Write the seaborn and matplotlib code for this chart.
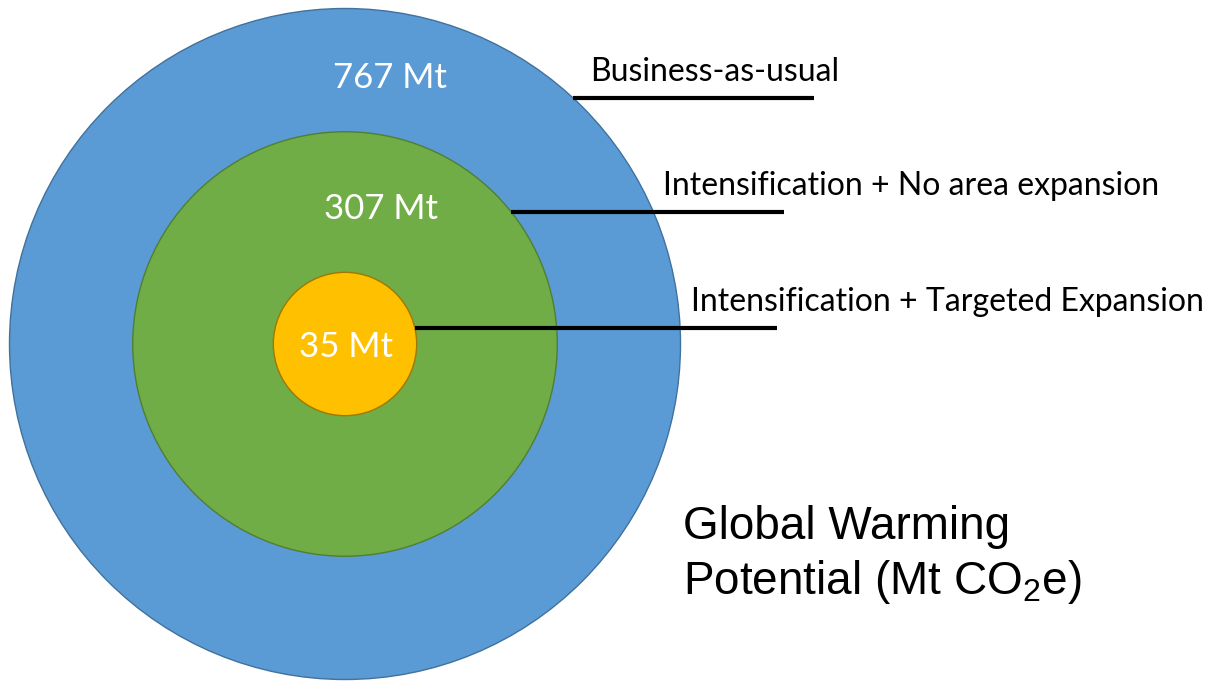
import numpy as np
import matplotlib.pyplot as plt
from matplotlib.patches import Circle
import seaborn as sns

# --- data ---
scenarios = ["Business-as-usual",
             "Intensification + No area expansion",
             "Intensification + Targeted Expansion"]
gwp_mt = [767, 307, 35]
value_labels = ["767 Mt", "307 Mt", "35 Mt"]

fill_colors = ["#5B9BD5", "#70AD47", "#FFC000"]
edge_colors = ["#41719C", "#507E32", "#A07800"]

sns.set_theme(style="white")
plt.rcParams["font.family"] = ["Lato", "DejaVu Sans"]
plt.rcParams["mathtext.fontset"] = "custom"
plt.rcParams["mathtext.rm"] = "Liberation Sans"

W, H = 1219, 681
fig = plt.figure(figsize=(W / 100, H / 100), dpi=100)
ax = fig.add_axes([0, 0, 1, 1])
ax.set_xlim(0, W)
ax.set_ylim(H, 0)
ax.axis("off")

# circle area proportional to value
cx, cy = 345, 344
r_max = 335.5
radii = [r_max * np.sqrt(v / max(gwp_mt)) for v in gwp_mt]

for r, fc, ec in zip(radii, fill_colors, edge_colors):
    ax.add_patch(Circle((cx, cy), r, facecolor=fc, edgecolor=ec, lw=1.0))

# value labels inside the rings
label_pos = [(390, 78), (381, 209), (346, 347)]
for (x, y), txt in zip(label_pos, value_labels):
    ax.text(x, y, txt, color="white", fontsize=25, ha="center", va="center")

# leader lines + scenario names
line_y = [98, 212, 328]
line_end = [814, 784, 777]
text_x = [590, 663, 691]
for r, y, x_end, tx, name in zip(radii, line_y, line_end, text_x, scenarios):
    x_start = cx + np.sqrt(max(r ** 2 - (cy - y) ** 2, 0))
    ax.plot([x_start, x_end], [y, y], color="black", lw=3, solid_capstyle="butt")
    ax.text(tx, y - 26, name, color="black", fontsize=23, ha="left", va="center")

# axis-style caption
ax.text(683, 527, "Global Warming", fontsize=33, ha="left", va="center",
        family="Liberation Sans", color="black")
ax.text(683, 582, r"Potential (Mt CO$_\mathrm{2}$e)", fontsize=33, ha="left",
        va="center", family="Liberation Sans", color="black")

fig.savefig("out.png", dpi=100, facecolor="white")
